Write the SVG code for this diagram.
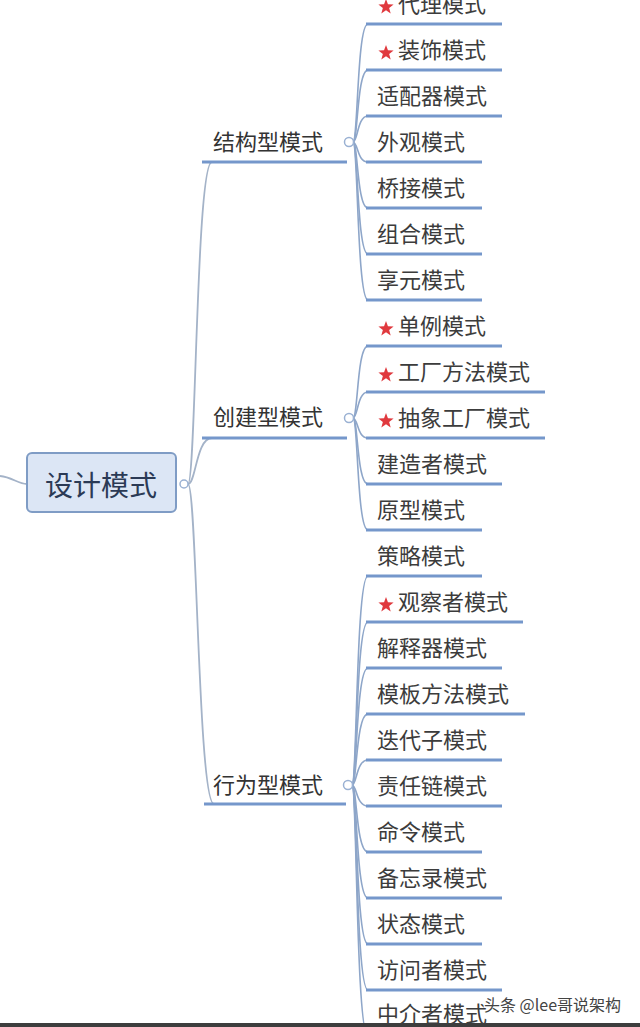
<svg xmlns="http://www.w3.org/2000/svg" width="640" height="1027" viewBox="0 0 640 1027">
<style>
.t{font-family:"Noto Sans CJK SC","Noto Sans",sans-serif;font-size:22px;fill:#3c3c3c}
.b{font-family:"Noto Sans CJK SC","Noto Sans",sans-serif;font-size:22px;fill:#333}
.r{font-family:"Noto Sans CJK SC","Noto Sans",sans-serif;font-size:28px;fill:#2b3a55}
.u{stroke:#7597cb;stroke-width:3;fill:none}
.c{stroke:#8ea6c9;stroke-width:1.6;fill:none}
.m{stroke:#a4b3c8;stroke-width:1.8;fill:none}
.k{fill:#fff;stroke:#9ab1d3;stroke-width:1.5}
.w{font-family:"Noto Sans CJK SC","Noto Sans",sans-serif;font-size:16px;fill:#444;stroke:#fff;stroke-width:2.5;paint-order:stroke}
</style>
<defs>
<polygon id="star" fill="#e0393e" points="0,-8 1.94,-2.67 7.61,-2.47 3.14,1.02 4.7,6.47 0,3.3 -4.7,6.47 -3.14,1.02 -7.61,-2.47 -1.94,-2.67"/>
</defs>
<rect width="640" height="1027" fill="#fff"/>
<g id="connectors">
<path class="m" d="M0,476 C12,477 18,484 27,484"/>
<path class="m" d="M188,484 C196,484 196,162 212,162"/>
<path class="m" d="M188,484 C196,484 196,438 212,438"/>
<path class="m" d="M188,484 C197,484 198,804 214,804"/>
<path class="c" d="M353,142 C358,142 357,24 368,24"/>
<path class="c" d="M353,142 C358,142 357,70 368,70"/>
<path class="c" d="M353,142 C358,142 357,116 368,116"/>
<path class="c" d="M353,142 C358,142 357,162 368,162"/>
<path class="c" d="M353,142 C358,142 357,208 368,208"/>
<path class="c" d="M353,142 C358,142 357,254 368,254"/>
<path class="c" d="M353,142 C358,142 357,300 368,300"/>
<path class="c" d="M353,418 C358,418 357,346 368,346"/>
<path class="c" d="M353,418 C358,418 357,392 368,392"/>
<path class="c" d="M353,418 C358,418 357,438 368,438"/>
<path class="c" d="M353,418 C358,418 357,484 368,484"/>
<path class="c" d="M353,418 C358,418 357,530 368,530"/>
<path class="c" d="M352,785 C357,785 356,576 368,576"/>
<path class="c" d="M352,785 C357,785 356,622 368,622"/>
<path class="c" d="M352,785 C357,785 356,668 368,668"/>
<path class="c" d="M352,785 C357,785 356,714 368,714"/>
<path class="c" d="M352,785 C357,785 356,760 368,760"/>
<path class="c" d="M352,785 C357,785 356,806 368,806"/>
<path class="c" d="M352,785 C357,785 356,852 368,852"/>
<path class="c" d="M352,785 C357,785 356,898 368,898"/>
<path class="c" d="M352,785 C357,785 356,944 368,944"/>
<path class="c" d="M352,785 C357,785 356,990 368,990"/>
<path class="c" d="M352,785 C357,785 356,1036 368,1036"/>
</g>
<g id="root">
<rect x="27" y="453" width="149" height="59" rx="5" fill="#dce6f5" stroke="#7f9cc5" stroke-width="2"/>
<text class="r" x="101" y="496" text-anchor="middle">设计模式</text>
<circle class="k" cx="184" cy="484" r="4" stroke="#aaa"/>
</g>
<g id="b1">
<path class="u" d="M202,162 H347"/>
<text class="b" x="213" y="150">结构型模式</text>
<circle class="k" cx="349" cy="142" r="4.5"/>
</g>
<g id="b2">
<path class="u" d="M202,438 H347"/>
<text class="b" x="213" y="425">创建型模式</text>
<circle class="k" cx="349" cy="418" r="4.5"/>
</g>
<g id="b3">
<path class="u" d="M204,804 H346"/>
<text class="b" x="213" y="793">行为型模式</text>
<circle class="k" cx="348" cy="785" r="4.5"/>
</g>
<g id="n1"><path class="u" d="M366,24 H502"/><use href="#star" x="386" y="7"/><text class="t" x="398" y="12">代理模式</text></g>
<g id="n2"><path class="u" d="M366,70 H502"/><use href="#star" x="386" y="53"/><text class="t" x="398" y="58">装饰模式</text></g>
<g id="n3"><path class="u" d="M366,116 H502"/><text class="t" x="377" y="104">适配器模式</text></g>
<g id="n4"><path class="u" d="M366,162 H482"/><text class="t" x="377" y="150">外观模式</text></g>
<g id="n5"><path class="u" d="M366,208 H482"/><text class="t" x="377" y="196">桥接模式</text></g>
<g id="n6"><path class="u" d="M366,254 H482"/><text class="t" x="377" y="242">组合模式</text></g>
<g id="n7"><path class="u" d="M366,300 H482"/><text class="t" x="377" y="288">享元模式</text></g>
<g id="n8"><path class="u" d="M366,346 H502"/><use href="#star" x="386" y="329"/><text class="t" x="398" y="334">单例模式</text></g>
<g id="n9"><path class="u" d="M366,392 H545"/><use href="#star" x="386" y="375"/><text class="t" x="398" y="380">工厂方法模式</text></g>
<g id="n10"><path class="u" d="M366,438 H545"/><use href="#star" x="386" y="421"/><text class="t" x="398" y="426">抽象工厂模式</text></g>
<g id="n11"><path class="u" d="M366,484 H502"/><text class="t" x="377" y="472">建造者模式</text></g>
<g id="n12"><path class="u" d="M366,530 H482"/><text class="t" x="377" y="518">原型模式</text></g>
<g id="n13"><path class="u" d="M366,576 H482"/><text class="t" x="377" y="564">策略模式</text></g>
<g id="n14"><path class="u" d="M366,622 H523"/><use href="#star" x="386" y="605"/><text class="t" x="398" y="610">观察者模式</text></g>
<g id="n15"><path class="u" d="M366,668 H502"/><text class="t" x="377" y="656">解释器模式</text></g>
<g id="n16"><path class="u" d="M366,714 H525"/><text class="t" x="377" y="702">模板方法模式</text></g>
<g id="n17"><path class="u" d="M366,760 H502"/><text class="t" x="377" y="748">迭代子模式</text></g>
<g id="n18"><path class="u" d="M366,806 H502"/><text class="t" x="377" y="794">责任链模式</text></g>
<g id="n19"><path class="u" d="M366,852 H482"/><text class="t" x="377" y="840">命令模式</text></g>
<g id="n20"><path class="u" d="M366,898 H502"/><text class="t" x="377" y="886">备忘录模式</text></g>
<g id="n21"><path class="u" d="M366,944 H482"/><text class="t" x="377" y="932">状态模式</text></g>
<g id="n22"><path class="u" d="M366,990 H502"/><text class="t" x="377" y="978">访问者模式</text></g>
<g id="n23"><path class="u" d="M366,1036 H502"/><text class="t" x="377" y="1022">中介者模式</text></g>
<text class="w" x="484" y="1011">头条 @lee哥说架构</text>
<rect x="0" y="1023" width="640" height="4" fill="#3d3d3d"/>
</svg>
